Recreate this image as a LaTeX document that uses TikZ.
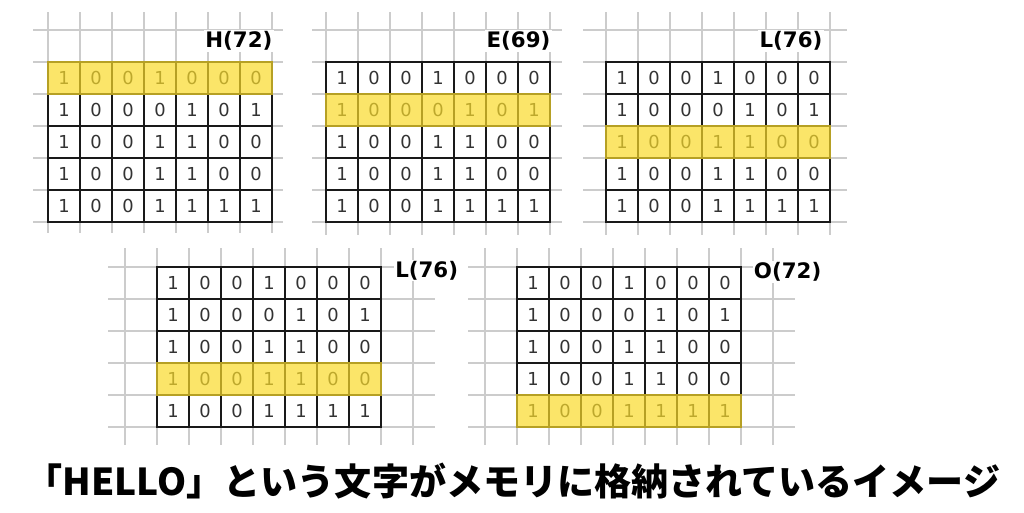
\documentclass[tikz,border=0pt]{standalone}
\usepackage{fontspec}
\setmainfont{DejaVu Sans}
\newfontfamily\cjk{Noto Sans CJK JP}[BoldFont={* Black}]
\usetikzlibrary{positioning}
\definecolor{markyellow}{RGB}{249,218,42}
\newcommand{\digitfont}{\fontsize{13.4}{16}\selectfont}
\newcommand{\tagfont}{\fontsize{16}{19}\selectfont\bfseries}
\tikzstyle{cell}=[draw=black!90,line width=1pt,minimum width=24pt,minimum height=24pt,inner sep=0pt,text=black!80,font=\digitfont]
\tikzstyle{hilite}=[fill=markyellow,opacity=0.7]
\tikzstyle{gridline}=[draw=black!20,line width=1.1pt]
\tikzstyle{tag}=[fill=white,inner sep=1pt,font=\tagfont]

\newcommand{\bittable}[4]{%
  \foreach \bits [count=\r] in {{1,0,0,1,0,0,0},{1,0,0,0,1,0,1},{1,0,0,1,1,0,0},{1,0,0,1,1,0,0},{1,0,0,1,1,1,1}}
    \foreach \b [count=\c] in \bits
      \node[cell] (#1-\r-\c) at ({#2+32*\c-16},{#3+32*\r-16}) {\b};
  \fill[hilite] (#1-#4-1.north west) rectangle (#1-#4-7.south east);
}

\begin{document}
\begin{tikzpicture}[x=0.75pt,y=-0.75pt]
  \useasboundingbox (0,0) rectangle (1024,512);

  \foreach \y in {30,62,...,222} \draw[gridline] (33,\y) -- (283,\y);
  \foreach \x in {48,80,...,272} \draw[gridline] (\x,12) -- (\x,233);
  \foreach \y in {30,62,...,222} \draw[gridline] (312,\y) -- (562,\y);
  \foreach \x in {326,358,...,550} \draw[gridline] (\x,12) -- (\x,235);
  \foreach \y in {30,62,...,222} \draw[gridline] (583,\y) -- (847,\y);
  \foreach \x in {606,638,...,830} \draw[gridline] (\x,12) -- (\x,235);
  \foreach \y in {267,299,...,427} \draw[gridline] (108,\y) -- (435,\y);
  \foreach \x in {125,157,...,413} \draw[gridline] (\x,248) -- (\x,445);
  \foreach \y in {267,299,...,427} \draw[gridline] (468,\y) -- (795,\y);
  \foreach \x in {485,517,...,773} \draw[gridline] (\x,248) -- (\x,445);

  \bittable{h}{48}{62}{1}
  \bittable{e}{326}{62}{2}
  \bittable{la}{606}{62}{3}
  \bittable{lb}{157}{267}{4}
  \bittable{o}{517}{267}{5}

  \node[tag,above left=7pt and -1pt of h-1-7.north east] (htag) {H(72)};
  \node[tag,above left=7pt and -1pt of e-1-7.north east] (etag) {E(69)};
  \node[tag,above left=7pt and 5pt of la-1-7.north east] (latag) {L(76)};
  \node[tag,right=9pt of lb-1-7.north east,yshift=-3pt] (lbtag) {L(76)};
  \node[tag,right=8pt of o-1-7.north east,yshift=-4pt] (otag) {O(72)};

  \node (title) at (513,481) {\cjk\bfseries\fontsize{27.8}{32}\selectfont 「HELLO」という文字がメモリに格納されているイメージ};
\end{tikzpicture}
\end{document}
